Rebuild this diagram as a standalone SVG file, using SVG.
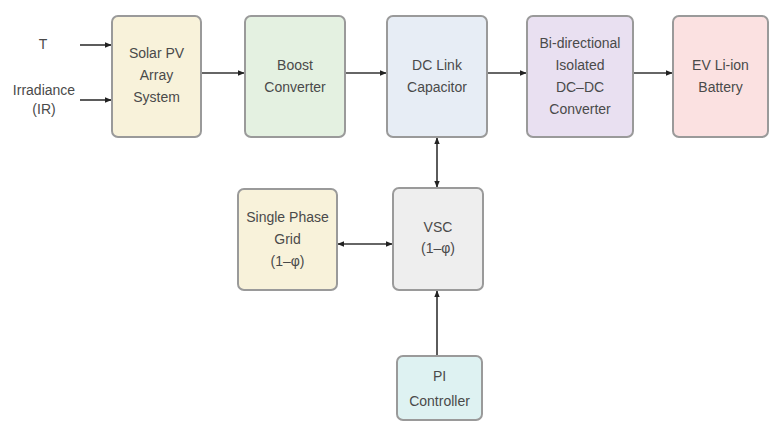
<svg xmlns="http://www.w3.org/2000/svg" width="771" height="421" viewBox="0 0 771 421">
<defs>
<style>
.box{stroke:#9a9a9a;stroke-width:2}
.t{font-family:"Liberation Sans",Arial,sans-serif;font-size:14px;fill:#4a4a4a;text-anchor:middle}
.c{stroke:#333;stroke-width:1.6;fill:none}
</style>
<marker id="ah" viewBox="0 0 10 10" refX="9" refY="5" markerWidth="7" markerHeight="7" orient="auto-start-reverse" markerUnits="userSpaceOnUse">
<path d="M0,1 L10,5 L0,9 z" fill="#222"/>
</marker>
</defs>
<rect width="771" height="421" fill="#ffffff"/>
<g id="connectors">
<line class="c" x1="80" y1="45" x2="111" y2="45" marker-end="url(#ah)"/>
<line class="c" x1="80" y1="100" x2="111" y2="100" marker-end="url(#ah)"/>
<line class="c" x1="201" y1="73" x2="244" y2="73" marker-end="url(#ah)"/>
<line class="c" x1="345" y1="73" x2="386" y2="73" marker-end="url(#ah)"/>
<line class="c" x1="487" y1="73" x2="526" y2="73" marker-end="url(#ah)"/>
<line class="c" x1="633" y1="73" x2="672" y2="73" marker-end="url(#ah)"/>
<line class="c" x1="437" y1="138" x2="437" y2="187" marker-start="url(#ah)" marker-end="url(#ah)"/>
<line class="c" x1="338" y1="244" x2="392" y2="244" marker-start="url(#ah)" marker-end="url(#ah)"/>
<line class="c" x1="437" y1="355" x2="437" y2="291" marker-end="url(#ah)"/>
</g>
<g id="input-T"><text class="t" x="43" y="49">T</text></g>
<g id="input-IR"><text class="t" x="44" y="95">Irradiance</text><text class="t" x="44" y="114">(IR)</text></g>
<g id="solar-pv">
<rect class="box" x="112" y="16" width="89" height="121" rx="6" fill="#f8f2da"/>
<text class="t" x="156.5" y="58">Solar PV</text><text class="t" x="156.5" y="80">Array</text><text class="t" x="156.5" y="102">System</text>
</g>
<g id="boost">
<rect class="box" x="245" y="16" width="100" height="121" rx="6" fill="#e4f1e1"/>
<text class="t" x="295" y="70">Boost</text><text class="t" x="295" y="92">Converter</text>
</g>
<g id="dc-link">
<rect class="box" x="387" y="16" width="100" height="121" rx="6" fill="#e7edf5"/>
<text class="t" x="437" y="70">DC Link</text><text class="t" x="437" y="92">Capacitor</text>
</g>
<g id="bidir">
<rect class="box" x="527" y="16" width="106" height="121" rx="6" fill="#e9e0f1"/>
<text class="t" x="580" y="48">Bi-directional</text><text class="t" x="580" y="70">Isolated</text><text class="t" x="580" y="92">DC–DC</text><text class="t" x="580" y="114">Converter</text>
</g>
<g id="battery">
<rect class="box" x="673" y="16" width="95" height="121" rx="6" fill="#fbe1e1"/>
<text class="t" x="720.5" y="70">EV Li-ion</text><text class="t" x="720.5" y="92">Battery</text>
</g>
<g id="grid">
<rect class="box" x="238" y="189" width="99" height="101" rx="6" fill="#f8f2da"/>
<text class="t" x="287.5" y="222">Single Phase</text><text class="t" x="287.5" y="244">Grid</text><text class="t" x="287.5" y="266">(1–φ)</text>
</g>
<g id="vsc">
<rect class="box" x="393" y="188" width="90" height="102" rx="6" fill="#eeeeee"/>
<text class="t" x="438" y="232">VSC</text><text class="t" x="438" y="253">(1–φ)</text>
</g>
<g id="pi">
<rect class="box" x="397" y="356" width="85" height="64" rx="6" fill="#def2f2"/>
<text class="t" x="439.5" y="381">PI</text><text class="t" x="439.5" y="406">Controller</text>
</g>
</svg>
